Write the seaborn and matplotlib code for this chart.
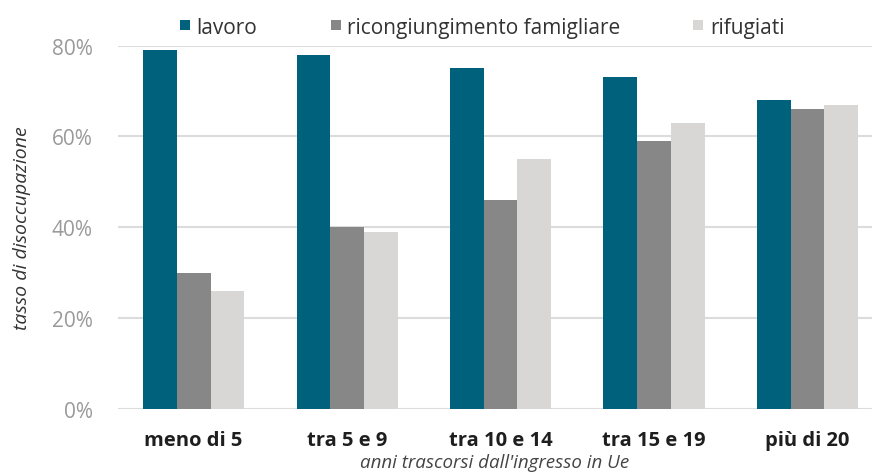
import pandas as pd
import matplotlib.pyplot as plt
import seaborn as sns
from matplotlib.lines import Line2D

# data
categorie = ["meno di 5", "tra 5 e 9", "tra 10 e 14", "tra 15 e 19", "più di 20"]
lavoro = [79, 78, 75, 73, 68]
ricongiungimento = [30, 40, 46, 59, 66]
rifugiati = [26, 39, 55, 63, 67]

serie = ["lavoro", "ricongiungimento famigliare", "rifugiati"]
colori = ["#00617c", "#878787", "#d9d7d6"]

df = pd.DataFrame({
    "anni": categorie * 3,
    "motivo": [serie[0]] * 5 + [serie[1]] * 5 + [serie[2]] * 5,
    "tasso": lavoro + ricongiungimento + rifugiati,
})

sns.set_theme(style="white")
plt.rcParams['font.family'] = ['Open Sans', 'DejaVu Sans']

fig = plt.figure(figsize=(8.72, 4.77), dpi=100)
ax = fig.add_axes([0.135, 0.1405, 0.865, 0.762])

sns.barplot(data=df, x="anni", y="tasso", hue="motivo", order=categorie,
            hue_order=serie, palette=colori, width=0.66, gap=0,
            saturation=1, linewidth=0, legend=False, ax=ax)

ax.set_ylim(0, 80)
ax.set_xlim(-0.495, 4.42)
ax.set_yticks([0, 20, 40, 60, 80])
ax.set_yticklabels([f"{v}%" for v in [0, 20, 40, 60, 80]])
ax.yaxis.grid(True, color="#dcdcdc", linewidth=1.5)
ax.set_axisbelow(True)
sns.despine(ax=ax, left=True, bottom=True, top=True, right=True)

ax.tick_params(axis="y", labelsize=15, labelcolor="#9a9a9a", length=0, pad=18)
ax.tick_params(axis="x", labelsize=14.5, labelcolor="#1e1e1e", length=0, pad=15)
for t in ax.get_xticklabels():
    t.set_fontweight("bold")

ax.set_ylabel("tasso di disoccupazione", fontsize=14, style="italic",
              color="#333333", labelpad=15)
ax.set_xlabel("anni trascorsi dall'ingresso in Ue", fontsize=13.5,
              style="italic", color="#444444", labelpad=2)

handles = [Line2D([], [], marker="s", linestyle="none", markersize=6.5,
                  markerfacecolor=c, markeredgewidth=0) for c in colori]
fig.legend(handles, serie, loc="center", bbox_to_anchor=(0.553, 0.941),
           ncol=3, frameon=False, fontsize=15, handletextpad=0.3,
           columnspacing=3.5, handlelength=0.5, labelcolor="#333333")

fig.savefig("out.png", dpi=100)
